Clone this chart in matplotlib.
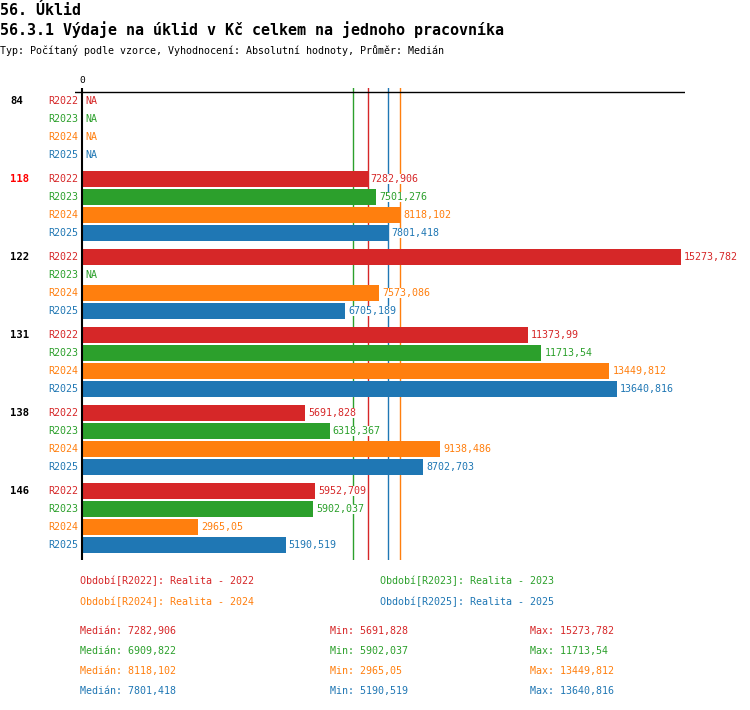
import numpy as np
import matplotlib
matplotlib.use("Agg")
import matplotlib.pyplot as plt
import matplotlib.transforms as mtransforms
from decimal import Decimal, ROUND_HALF_UP

# ------------------------------
# DATA
# ------------------------------

groups = ["84", "118", "122", "131", "138", "146"]
highlight = "118"
series = ["R2022", "R2023", "R2024", "R2025"]
series_names = ["Realita - 2022", "Realita - 2023", "Realita - 2024", "Realita - 2025"]
colors = ["#d62728", "#2ca02c", "#ff7f0e", "#1f77b4"]

r2022 = [np.nan, 7282.906, 15273.782, 11373.99, 5691.828, 5952.709]
r2023 = [np.nan, 7501.276, np.nan, 11713.54, 6318.367, 5902.037]
r2024 = [np.nan, 8118.102, 7573.086, 13449.812, 9138.486, 2965.05]
r2025 = [np.nan, 7801.418, 6705.189, 13640.816, 8702.703, 5190.519]
values = [r2022, r2023, r2024, r2025]

FONT = "DejaVu Sans Mono"
FS = 7.2
W, H = 750, 710


def fmt(v):
    d = Decimal(str(v)).quantize(Decimal("0.001"), rounding=ROUND_HALF_UP)
    s = format(d, "f").rstrip("0").rstrip(".")
    return s.replace(".", ",")


def px(x):
    return x / W


def py(y):
    return 1 - y / H


fig = plt.figure(figsize=(W / 100, H / 100), dpi=100)
fig.patch.set_facecolor("white")

# axes region in pixels: x 75..685, y 88..560
ax = fig.add_axes([px(75), py(560), px(685) - px(75), (560 - 88) / H])
ax.set_axis_off()

vmax = np.nanmax(np.array(values))
scale = (681 - 82) / vmax          # pixels per unit
ax.set_xlim(-7 / scale, 603 / scale)

ROW = 18.0                         # px per row
gap = 6 / ROW
n = len(series)
last = (len(groups) - 1) * (n + gap) + n - 1
ax.set_ylim(last + 15 / ROW, -13 / ROW)

# median lines
for vals, c in zip(values, colors):
    ax.axvline(np.nanmedian(vals), color=c, lw=1, zorder=1)

lab_tr = mtransforms.blended_transform_factory(fig.transFigure, ax.transData)

for g, grp in enumerate(groups):
    y0 = g * (n + gap)
    ax.text(px(10), y0, grp, transform=lab_tr, ha="left", va="center",
            family=FONT, fontsize=FS + 0.4, fontweight="bold",
            color="#ff0000" if grp == highlight else "black")
    for s in range(n):
        y = y0 + s
        v = values[s][g]
        c = colors[s]
        ax.text(px(78), y, series[s], transform=lab_tr, ha="right", va="center",
                family=FONT, fontsize=FS, color=c)
        if np.isnan(v):
            ax.text(3 / scale, y, "NA", ha="left", va="center",
                    family=FONT, fontsize=FS, color=c, zorder=4)
        else:
            ax.barh(y, v, height=16 / ROW, color=c, zorder=2)
            ax.text(v + 3 / scale, y, fmt(v), ha="left", va="center",
                    family=FONT, fontsize=FS, color=c, zorder=4,
                    bbox=dict(facecolor="white", edgecolor="none", pad=0))

# axis lines
ax.axvline(0, color="black", lw=1.5, zorder=3)
ax.axhline(-0.5, color="black", lw=1, zorder=3)
ax.text(0, -20 / ROW, "0", ha="center", va="center", family=FONT, fontsize=FS - 0.4)

# titles
fig.text(0, py(15), "56. Úklid", ha="left", va="baseline", family=FONT,
         fontsize=10.8, fontweight="bold")
fig.text(0, py(35), "56.3.1 Výdaje na úklid v Kč celkem na jednoho pracovníka",
         ha="left", va="baseline", family=FONT, fontsize=10.8, fontweight="bold")
fig.text(0, py(54), "Typ: Počítaný podle vzorce, Vyhodnocení: Absolutní hodnoty, Průměr: Medián",
         ha="left", va="baseline", family=FONT, fontsize=FS)

# legend
leg_pos = [(80, 581), (380, 581), (80, 602), (380, 602)]
for (x, y), s, name, c in zip(leg_pos, series, series_names, colors):
    fig.text(px(x), py(y), f"Období[{s}]: {name}", ha="left", va="center",
             family=FONT, fontsize=FS, color=c)

# stats
for i, (vals, c) in enumerate(zip(values, colors)):
    y = py(631 + 20 * i)
    fig.text(px(80), y, f"Medián: {fmt(np.nanmedian(vals))}", ha="left", va="center",
             family=FONT, fontsize=FS, color=c)
    fig.text(px(330), y, f"Min: {fmt(np.nanmin(vals))}", ha="left", va="center",
             family=FONT, fontsize=FS, color=c)
    fig.text(px(530), y, f"Max: {fmt(np.nanmax(vals))}", ha="left", va="center",
             family=FONT, fontsize=FS, color=c)

fig.savefig("out.png", dpi=100)
